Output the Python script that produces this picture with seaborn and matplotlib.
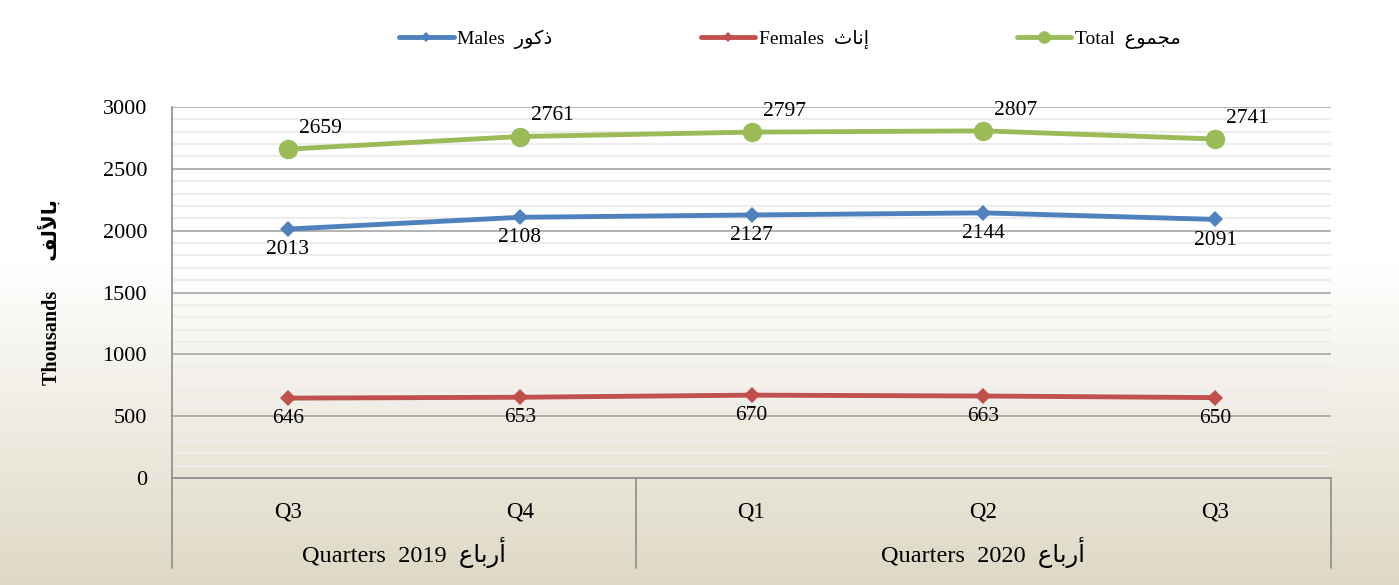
import numpy as np
import pandas as pd
import matplotlib
matplotlib.use("Agg")
import matplotlib.pyplot as plt
import seaborn as sns

# ---- data ----
quarters = ["Q3", "Q4", "Q1", "Q2", "Q3"]
years = ["2019", "2019", "2020", "2020", "2020"]
males = [2013, 2108, 2127, 2144, 2091]
females = [646, 653, 670, 663, 650]
total = [2659, 2761, 2797, 2807, 2741]

# Arabic text in visual (pre-shaped, reversed) order
AR_MALES = "\uFEAD\uFEEE\uFEDB\uFEAB"            # ذكور
AR_FEMALES = "\uFE99\uFE8E\uFEE7\uFE87"          # إناث
AR_TOTAL = "\uFEC9\uFEEE\uFEE4\uFEA0\uFEE3"      # مجموع
AR_QUARTERS = "\uFEC9\uFE8E\uFE91\uFEAD\uFE83"   # أرباع
AR_THOUSANDS = "\uFED2\uFEDF\uFEF7\uFE8E\uFE91"  # بالألف

series_labels = [f"Males  {AR_MALES}", f"Females  {AR_FEMALES}", f"Total  {AR_TOTAL}"]

sns.set_theme(style="white")
plt.rcParams["font.family"] = ["Liberation Serif", "DejaVu Sans"]
plt.rcParams["text.color"] = "black"
plt.rcParams["xtick.color"] = "black"
plt.rcParams["ytick.color"] = "black"

FAM = ["Liberation Serif", "DejaVu Sans"]

fig = plt.figure(figsize=(13.99, 5.85), dpi=100)

# background gradient
bg = fig.add_axes([0, 0, 1, 1], zorder=-10)
n = 400
t = np.linspace(0, 1, n)
top = np.array([255, 255, 255]) / 255
bot = np.array([222, 216, 196]) / 255
w = np.clip((t - 0.45) / 0.55, 0, 1)[:, None]
grad = top * (1 - w) + bot * w
bg.imshow(np.repeat(grad[:, None, :], 2, axis=1), aspect="auto", extent=[0, 1, 0, 1])
bg.axis("off")

W, H = 1399, 585
ax_left, ax_right, ax_top, ax_bot = 172, 1331, 107, 478
ax = fig.add_axes([ax_left / W, 1 - ax_bot / H, (ax_right - ax_left) / W, (ax_bot - ax_top) / H])
ax.set_facecolor("none")

x = np.arange(len(quarters))
df = pd.DataFrame({
    "x": np.tile(x, 3),
    "value": males + females + total,
    "series": np.repeat(series_labels, len(x)),
})

colors = {series_labels[0]: "#4F81BD", series_labels[1]: "#C0504D", series_labels[2]: "#9BBB59"}
markers = {series_labels[0]: "D", series_labels[1]: "D", series_labels[2]: "o"}
sizes = {series_labels[0]: 8, series_labels[1]: 8, series_labels[2]: 14}

for s in series_labels:
    sub = df[df["series"] == s]
    sns.lineplot(data=sub, x="x", y="value", ax=ax, color=colors[s], marker=markers[s],
                 markersize=sizes[s], markeredgewidth=0, linewidth=3.5, label=s, zorder=5)

# data labels
for xi, v in zip(x, total):
    ax.annotate(str(v), (xi, v), xytext=(8, 8), textcoords="offset points",
                ha="left", va="bottom", fontsize=15.5, family=FAM)
for xi, v in zip(x, males):
    ax.annotate(str(v), (xi, v), xytext=(0, -8), textcoords="offset points",
                ha="center", va="top", fontsize=15.5, family=FAM)
for xi, v in zip(x, females):
    ax.annotate(str(v), (xi, v), xytext=(0, -8), textcoords="offset points",
                ha="center", va="top", fontsize=15.5, family=FAM)

ax.set_xlim(-0.5, len(x) - 0.5)
ax.set_ylim(0, 3000)
ax.set_yticks(np.arange(0, 3001, 500))
ax.set_yticks(np.arange(0, 3001, 100), minor=True)
ax.grid(which="major", axis="y", color="#A6A6A6", linewidth=1.2)
ax.grid(which="minor", axis="y", color="#EDEDED", linewidth=1.6)
ax.grid(which="major", axis="x", visible=False)
ax.set_axisbelow(True)
ax.set_xticks(x)
ax.set_xticklabels(quarters, fontsize=16.5, family=FAM)
for lab in ax.get_yticklabels():
    lab.set_fontsize(16)
    lab.set_family(FAM)
ax.tick_params(axis="x", length=0, pad=17)
ax.tick_params(axis="y", length=0, pad=18)
ax.set_xlabel("")
ax.set_ylabel("")

for sp in ["top", "right"]:
    ax.spines[sp].set_visible(False)
ax.spines["left"].set_color("#8C8C8C")
ax.spines["left"].set_linewidth(1.2)
ax.spines["bottom"].set_color("#8C8C8C")
ax.spines["bottom"].set_linewidth(1.2)

# category group box
trans = ax.get_xaxis_transform()
ybox = -(568 - 478) / (ax_bot - ax_top)
for xv in [-0.5, 1.5, len(x) - 0.5]:
    ax.plot([xv, xv], [0, ybox], transform=trans, color="#8C8C8C", lw=1.2, clip_on=False)

ygrp = -(552 - 478) / (ax_bot - ax_top)
ax.text(0.5, ygrp, f"Quarters  2019  {AR_QUARTERS}", transform=trans, ha="center", va="center",
        fontsize=17.5, family=FAM)
ax.text(3.0, ygrp, f"Quarters  2020  {AR_QUARTERS}", transform=trans, ha="center", va="center",
        fontsize=17.5, family=FAM)

# y label
fig.text(50 / W, 1 - 292 / H, f"Thousands      {AR_THOUSANDS}", rotation=90, ha="center", va="center",
         fontsize=14.5, fontweight="bold", family=FAM)

# legend
ax.get_legend().remove()
handles, labels = ax.get_legend_handles_labels()
leg = fig.legend(handles, labels, loc="center", bbox_to_anchor=(790 / W, 1 - 39 / H), ncol=3,
                 frameon=False, prop={"family": FAM, "size": 14}, handlelength=2.8,
                 columnspacing=7.6, handletextpad=0.2, markerscale=0.65)

fig.savefig("out.png", dpi=100)
